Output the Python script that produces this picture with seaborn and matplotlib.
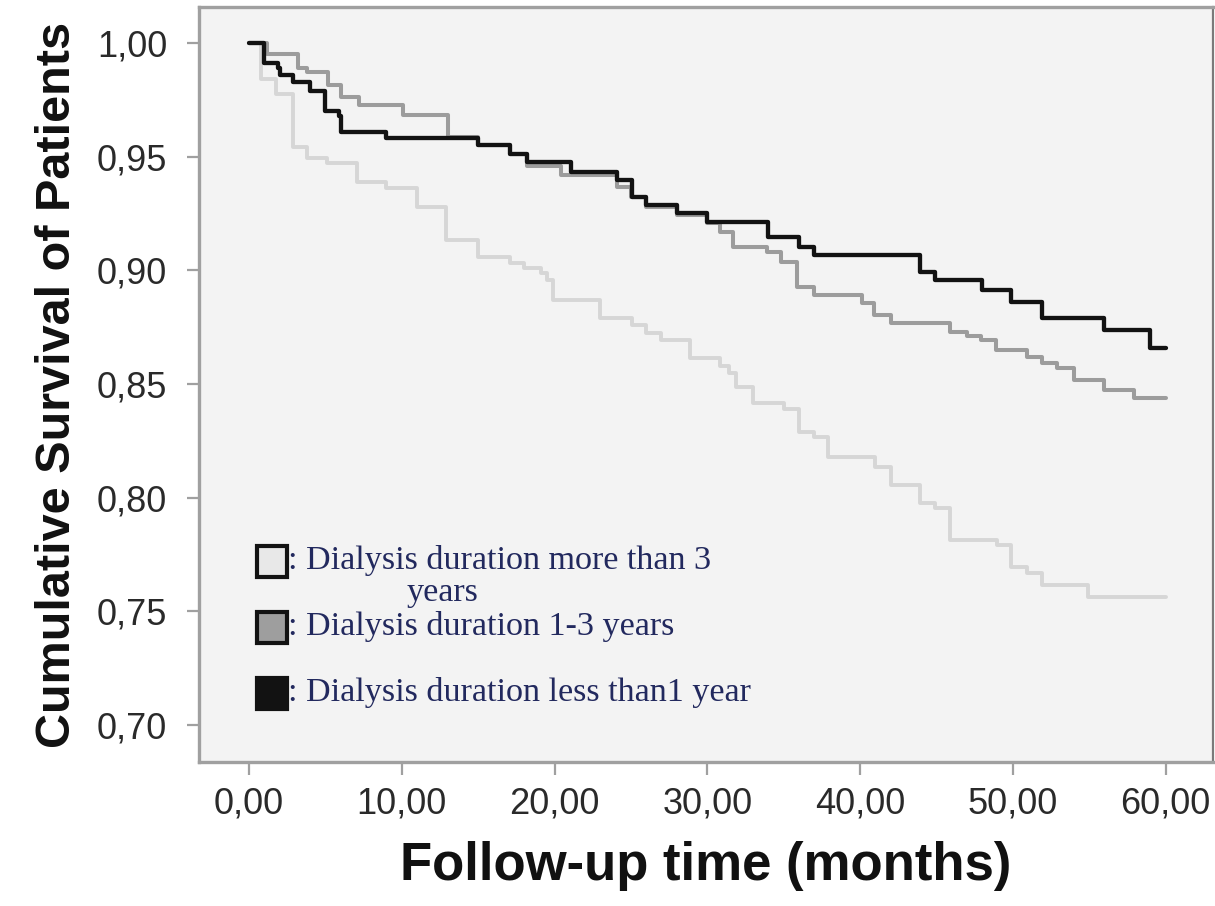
import matplotlib
matplotlib.use("Agg")
import matplotlib.pyplot as plt
from matplotlib.patches import Rectangle
from matplotlib.ticker import FuncFormatter
import numpy as np
import pandas as pd
import seaborn as sns

# Kaplan-Meier step points: time of each event (months) and survival after it
time_less1 = [0, 1.0, 1.9, 2.0, 2.9, 4.0, 5.0, 5.9, 6.0, 9.0, 15.0, 17.1, 18.2, 21.1, 24.1,
              25.1, 26.0, 28.0, 30.0, 34.0, 36.0, 37.0, 43.9, 44.9, 48.0, 49.9, 51.9,
              55.95, 59.0, 60.0]
surv_less1 = [1.0, 0.991, 0.989, 0.986, 0.983, 0.979, 0.970, 0.968, 0.961, 0.958, 0.955,
              0.951, 0.9475, 0.9434, 0.9397, 0.9324, 0.9287, 0.925, 0.9214, 0.9148, 0.9104,
              0.9067, 0.8994, 0.8957, 0.8914, 0.8862, 0.8789, 0.8737, 0.8657, 0.8657]

time_1to3 = [0, 1.2, 3.2, 3.8, 5.2, 6.0, 7.2, 10.1, 13.05, 15.0, 17.1, 18.2, 20.4, 24.1,
             25.0, 26.0, 28.0, 30.0, 30.8, 31.7, 33.9, 34.8, 35.9, 37.0, 40.1, 40.9, 42.0,
             45.9, 47.0, 47.9, 48.9, 50.9, 51.9, 52.9, 54.0, 55.95, 57.9, 60.0]
surv_1to3 = [1.0, 0.995, 0.989, 0.987, 0.9815, 0.9764, 0.9727, 0.9683, 0.9588, 0.955, 0.951,
             0.946, 0.942, 0.9368, 0.9324, 0.928, 0.9243, 0.9207, 0.917, 0.9104, 0.9082,
             0.9038, 0.8928, 0.8891, 0.8855, 0.8804, 0.8767, 0.873, 0.871, 0.8694, 0.865,
             0.862, 0.8591, 0.857, 0.8518, 0.8474, 0.8437, 0.8437]

time_more3 = [0, 0.8, 1.8, 2.9, 3.8, 5.1, 7.05, 9.0, 11.0, 12.9, 15.0, 17.1, 18.0, 19.1,
              19.5, 19.9, 23.0, 25.05, 26.0, 27.0, 28.9, 30.8, 31.4, 31.9, 33.0, 35.0, 36.0,
              37.0, 37.9, 41.0, 42.0, 43.9, 44.9, 45.9, 48.96, 49.9, 50.9, 51.9, 54.9, 60.0]
surv_more3 = [1.0, 0.984, 0.9775, 0.9544, 0.9493, 0.947, 0.939, 0.936, 0.928, 0.9133, 0.906,
              0.903, 0.9009, 0.8987, 0.8957, 0.887, 0.8789, 0.876, 0.8723, 0.8694, 0.8613,
              0.858, 0.8547, 0.8488, 0.8415, 0.839, 0.829, 0.8265, 0.818, 0.8136, 0.8056,
              0.7975, 0.7955, 0.7814, 0.779, 0.7696, 0.767, 0.7616, 0.7564, 0.7564]

legend_labels = [": Dialysis duration more than 3", ": Dialysis duration 1-3 years",
                 ": Dialysis duration less than1 year"]
x_ticks = [0, 10, 20, 30, 40, 50, 60]
y_ticks = [0.70, 0.75, 0.80, 0.85, 0.90, 0.95, 1.00]

c_more3, c_1to3, c_less1 = "#d6d6d6", "#9c9c9c", "#121212"
fill_more3, fill_1to3, fill_less1 = "#e8e8e8", "#9e9e9e", "#121212"

sns.set_style("white")
plt.rcParams["font.family"] = ["Liberation Sans", "DejaVu Sans"]

W, H = 1215, 906
fig = plt.figure(figsize=(W / 100, H / 100), dpi=100)
ax = fig.add_axes([199 / W, 1 - 762 / H, (1213 - 199) / W, (762 - 7) / H])
ax.set_facecolor("#f3f3f3")

series = [
    (time_more3, surv_more3, c_more3, 2.8),
    (time_1to3, surv_1to3, c_1to3, 2.9),
    (time_less1, surv_less1, c_less1, 3.1),
]
for t, s, col, lw in series:
    df = pd.DataFrame({"t": t, "s": s})
    sns.lineplot(data=df, x="t", y="s", ax=ax, color=col, linewidth=lw,
                 drawstyle="steps-post", estimator=None, sort=False)

ax.set_xlim(-3.27, 63.1)
ax.set_ylim(0.6837, 1.0158)
ax.set_xticks(x_ticks)
ax.set_yticks(y_ticks)
ax.xaxis.set_major_formatter(FuncFormatter(lambda v, p: f"{v:.2f}".replace(".", ",")))
ax.yaxis.set_major_formatter(FuncFormatter(lambda v, p: f"{v:.2f}".replace(".", ",")))
ax.tick_params(axis="both", which="major", direction="out", length=9, width=1.6,
               color="#a0a0a0", labelsize=26, labelcolor="#2a2a2a", bottom=True, left=True)
ax.tick_params(axis="y", pad=14)
ax.tick_params(axis="x", pad=9)

for side in ["left", "bottom", "top"]:
    ax.spines[side].set_color("#a0a0a0")
    ax.spines[side].set_linewidth(2.4)
ax.spines["right"].set_color("#7a7a7a")
ax.spines["right"].set_linewidth(1.6)

ax.set_xlabel("Follow-up time (months)", fontsize=38, fontweight="bold", color="#111111",
              labelpad=14)
ax.set_ylabel("Cumulative Survival of Patients", fontsize=35, fontweight="bold",
              color="#111111", labelpad=12)

# Legend drawn as boxes with serif captions
def fx(px):
    return px / W

def fy(py):
    return 1 - py / H

boxes = [(546, fill_more3), (612, fill_1to3), (678, fill_less1)]
for top, fc in boxes:
    fig.patches.append(Rectangle((fx(257), fy(top + 31)), fx(30), 31 / H, transform=fig.transFigure,
                                 facecolor=fc, edgecolor="#121212", linewidth=3.0))

txt_kw = dict(family=["Liberation Serif", "DejaVu Serif"], fontsize=24.6, color="#22295e",
              va="center", ha="left", transform=fig.transFigure)
fig.text(fx(288), fy(560), legend_labels[0], **txt_kw)
fig.text(fx(443), fy(593), "years", **{**txt_kw, "ha": "center"})
fig.text(fx(288), fy(627), legend_labels[1], **txt_kw)
fig.text(fx(288), fy(693), legend_labels[2], **txt_kw)

fig.savefig("out.png", dpi=100, facecolor="white")
